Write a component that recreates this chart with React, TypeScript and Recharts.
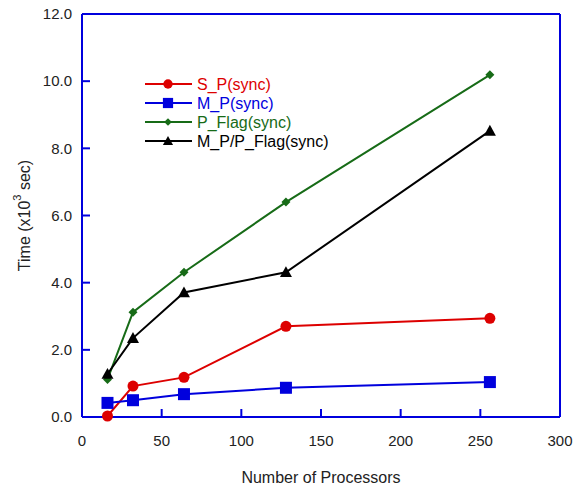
import React from 'react';
import {
  LineChart,
  Line,
  XAxis,
  YAxis,
} from 'recharts';

const processors = [16, 32, 64, 128, 256];
const spSync = [0.03, 0.92, 1.18, 2.7, 2.94];
const mpSync = [0.42, 0.5, 0.68, 0.87, 1.04];
const pFlagSync = [1.12, 3.12, 4.31, 6.4, 10.19];
const mpPFlagSync = [1.28, 2.35, 3.71, 4.31, 8.52];

const xTicks = [0, 50, 100, 150, 200, 250, 300];
const yTicks = [0, 2, 4, 6, 8, 10, 12];

const AXIS_BLUE = '#0000dd';
const FONT = '"Liberation Sans", Arial, sans-serif';

const series = [
  { key: 'sp', name: 'S_P(sync)', color: '#dd0000', shape: 'circle' },
  { key: 'mp', name: 'M_P(sync)', color: '#0000dd', shape: 'square' },
  { key: 'pflag', name: 'P_Flag(sync)', color: '#176b17', shape: 'diamond' },
  { key: 'mppflag', name: 'M_P/P_Flag(sync)', color: '#000000', shape: 'triangle' },
];

const data = processors.map((p, i) => ({
  p,
  sp: spSync[i],
  mp: mpSync[i],
  pflag: pFlagSync[i],
  mppflag: mpPFlagSync[i],
}));

const Marker = ({ cx, cy, shape, color, size = 1 }: any) => {
  if (cx == null || cy == null) return null;
  if (shape === 'circle') {
    return <circle cx={cx} cy={cy} r={5.5 * size} fill={color} />;
  }
  if (shape === 'square') {
    const s = 6 * size;
    return <rect x={cx - s} y={cy - s} width={s * 2} height={s * 2} fill={color} />;
  }
  if (shape === 'diamond') {
    const s = 4.5 * size;
    return (
      <polygon
        points={`${cx},${cy - s} ${cx + s},${cy} ${cx},${cy + s} ${cx - s},${cy}`}
        fill={color}
      />
    );
  }
  const s = 6 * size;
  return (
    <polygon
      points={`${cx},${cy - s} ${cx + s},${cy + s * 0.8} ${cx - s},${cy + s * 0.8}`}
      fill={color}
    />
  );
};

const LegendBox = () => (
  <svg width={240} height={80} style={{ overflow: 'visible', display: 'block' }}>
    {series.map((s, i) => {
      const y = 9 + i * 19;
      return (
        <g key={s.key}>
          <line x1={0} x2={47} y1={y} y2={y} stroke={s.color} strokeWidth={2} />
          <Marker cx={23} cy={y} shape={s.shape} color={s.color} size={0.85} />
          <text x={52} y={y + 6} fill={s.color} fontSize={16} fontFamily={FONT}>
            {s.name}
          </text>
        </g>
      );
    })}
  </svg>
);

const YLabel = ({ viewBox }: any) => {
  const cx = 24;
  const cy = viewBox ? viewBox.y + viewBox.height / 2 : 215;
  return (
    <text
      x={cx}
      y={cy}
      transform={`rotate(-90, ${cx}, ${cy})`}
      textAnchor="middle"
      dominantBaseline="central"
      fill="#222"
      fontSize={16}
      fontFamily={FONT}
    >
      Time (x10<tspan dy={-7} fontSize={11}>3</tspan><tspan dy={7}> sec)</tspan>
    </text>
  );
};

export default function App() {
  return (
    <div style={{ position: 'absolute', left: 0, top: 0, width: 578, height: 487, background: '#fff' }}>
      <LineChart
        width={578}
        height={487}
        data={data}
        margin={{ top: 13, right: 17, left: 22, bottom: 40 }}
      >
        <XAxis
          xAxisId="bottom"
          dataKey="p"
          type="number"
          domain={[0, 300]}
          ticks={xTicks}
          stroke={AXIS_BLUE}
          strokeWidth={2}
          tickSize={-8}
          tickMargin={26}
          height={30}
          tick={{ fill: '#222', fontSize: 15, fontFamily: FONT }}
          label={{
            value: 'Number of Processors',
            position: 'bottom',
            offset: 25,
            fill: '#222',
            fontSize: 16,
            fontFamily: FONT,
          }}
        />
        <XAxis
          xAxisId="top"
          orientation="top"
          dataKey="p"
          type="number"
          domain={[0, 300]}
          ticks={xTicks}
          stroke={AXIS_BLUE}
          strokeWidth={2}
          tickSize={-8}
          tick={false}
          height={1}
        />
        <YAxis
          yAxisId="left"
          type="number"
          domain={[0, 12]}
          ticks={yTicks}
          stroke={AXIS_BLUE}
          strokeWidth={2}
          tickSize={-8}
          tickMargin={18}
          width={60}
          tickFormatter={(v: number) => v.toFixed(1)}
          tick={{ fill: '#222', fontSize: 15, fontFamily: FONT }}
          label={<YLabel />}
        />
        <YAxis
          yAxisId="right"
          orientation="right"
          type="number"
          domain={[0, 12]}
          ticks={yTicks}
          stroke={AXIS_BLUE}
          strokeWidth={2}
          tickSize={-8}
          tick={false}
          width={1}
        />
        {series.map((s) => (
          <Line
            key={s.key}
            xAxisId="bottom"
            yAxisId="left"
            dataKey={s.key}
            name={s.name}
            stroke={s.color}
            strokeWidth={2}
            isAnimationActive={false}
            dot={(props: any) => (
              <Marker key={`${s.key}-${props.index}`} cx={props.cx} cy={props.cy} shape={s.shape} color={s.color} />
            )}
            activeDot={false}
          />
        ))}
      </LineChart>
      <div style={{ position: 'absolute', left: 145, top: 75 }}>
        <LegendBox />
      </div>
    </div>
  );
}
